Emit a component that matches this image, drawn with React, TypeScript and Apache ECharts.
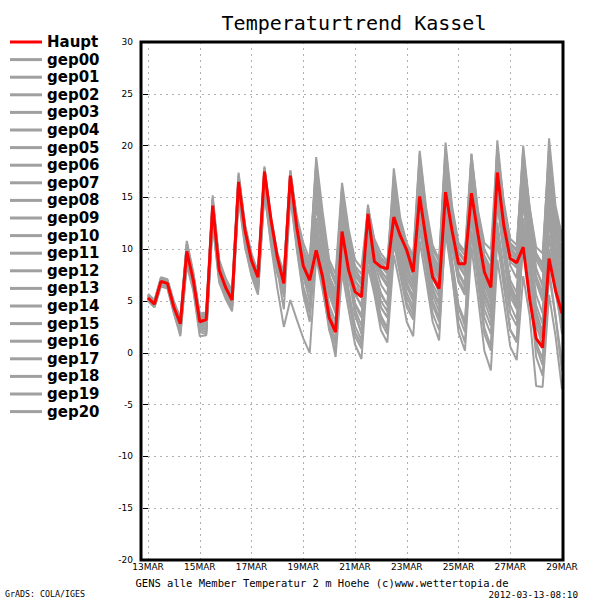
import React, { useEffect, useRef } from "react";
import * as echarts from "echarts";

// time step of the ensemble data (hours), first point at 13MAR 00
const STEP_HOURS = 6;
const xTickLabels = ["13MAR", "15MAR", "17MAR", "19MAR", "21MAR", "23MAR", "25MAR", "27MAR", "29MAR"];

const haupt = [5.3,4.7,6.9,6.7, 4.4,2.8,9.8,7.0, 3.0,3.2,14.2,8.0, 6.3,5.1,16.5,11.8, 8.9,7.3,17.5,12.9, 9.2,6.7,17.1,12.1, 8.4,7.0,9.9,7.3, 3.4,2.0,11.7,8.0, 5.9,5.4,13.4,8.8, 8.3,8.1,13.1,11.3, 9.9,7.8,15.1,10.9, 7.3,6.2,15.5,11.8, 8.6,8.6,15.4,11.5, 7.8,6.3,17.4,12.3, 9.1,8.7,10.2,5.2, 1.4,0.5,9.1,6.0, 3.8];

const gep00 = [5.4,4.8,7.0,6.8, 4.5,2.6,9.6,7.2, 3.2,3.0,14.0,8.2, 6.4,5.0,16.3,11.6, 8.7,7.0,17.2,12.6, 9.0,6.5,16.8,12.3, 8.6,7.2,10.4,7.6, 3.8,2.4,12.2,8.3, 6.2,5.8,13.0,9.2, 8.6,8.0,12.6,10.8, 9.5,7.4,14.6,10.5, 7.6,6.6,16.0,12.0, 8.9,8.2,14.8,11.0, 7.5,6.0,16.6,12.0, 8.8,8.2,11.0,6.0, 2.4,1.4,10.0,6.8, 4.4];
const gep01 = [5.1,4.5,6.6,6.4, 4.0,2.2,9.2,6.8, 2.8,2.6,13.6,7.8, 6.0,4.8,16.0,11.2, 8.4,6.8,16.8,12.0, 8.6,6.0,16.2,11.8, 9.0,8.0,17.5,12.4, 8.2,6.6,15.6,11.0, 8.0,6.8,13.2,10.2, 8.8,8.0,16.2,12.2, 9.6,8.4,18.0,13.0, 9.6,8.0,19.2,13.6, 9.8,9.0,18.4,13.2, 9.4,8.2,19.6,14.0, 10.2,9.4,18.6,13.0, 9.6,8.6,19.8,13.8, 10.8];
const gep02 = [5.6,5.0,7.2,7.0, 4.8,3.0,10.4,7.4, 3.4,3.6,14.8,8.6, 6.8,5.6,17.0,12.0, 9.2,7.6,17.8,12.2, 8.0,4.2,15.0,10.0, 5.6,3.0,10.8,6.4, 2.2,0.2,9.6,5.4, 2.0,0.8,10.0,6.2, 3.4,2.2,12.4,8.0, 4.8,3.6,14.0,8.6, 4.6,3.0,13.8,8.2, 3.6,2.0,11.6,6.8, 1.8,0.2,12.0,7.2, 2.2,1.0,11.2,6.0, 0.6,-1.2,8.0,3.6, -1.0];
const gep03 = [5.2,4.6,6.8,6.6, 4.2,2.4,9.4,6.6, 2.4,2.2,13.2,7.4, 5.8,4.6,15.6,11.0, 8.2,6.4,16.4,11.6, 8.4,7.0,16.6,12.6, 10.0,8.6,18.9,13.6, 9.0,7.6,16.4,12.0, 9.0,8.2,14.0,11.0, 9.6,8.8,17.0,12.6, 10.4,9.0,19.2,13.6, 10.0,8.8,20.3,14.2, 10.6,9.8,16.0,12.0, 9.0,7.6,18.6,13.2, 10.0,9.0,17.0,12.4, 9.0,7.8,18.0,12.8, 9.8];
const gep04 = [5.5,4.9,6.9,6.9, 4.6,2.9,10.0,7.3, 3.3,3.4,14.5,8.4, 6.6,5.4,16.7,11.4, 8.0,6.0,15.6,10.4, 6.2,2.5,5.1,3.2, 1.4,0.0,9.2,6.0, 2.6,0.8,8.6,5.2, 1.6,0.4,9.2,6.8, 4.4,3.4,11.0,8.6, 6.4,5.0,13.2,9.4, 6.0,4.6,15.0,10.2, 6.8,5.6,13.4,9.0, 5.0,3.2,14.4,9.6, 5.4,4.2,15.2,9.8, 4.0,2.0,12.8,7.8, 3.2];
const gep05 = [5.3,4.7,6.7,6.5, 4.3,2.5,9.9,7.1, 3.1,3.1,14.2,8.0, 6.2,5.2,16.4,11.8, 8.8,7.4,17.6,13.0, 9.6,7.4,17.6,12.8, 9.4,7.8,14.2,9.6, 5.6,3.8,13.6,9.4, 7.0,6.2,11.8,9.0, 7.4,6.4,14.8,10.6, 8.0,6.6,16.4,11.2, 7.4,5.8,17.0,11.6, 7.6,6.4,17.2,11.8, 7.2,5.2,15.8,10.6, 6.6,5.2,14.6,9.2, 4.6,2.8,16.2,10.4, 6.2];
const gep06 = [5.0,4.4,6.4,6.2, 3.8,1.8,8.6,6.2, 2.0,1.8,12.6,7.0, 5.4,4.2,15.2,10.4, 7.6,5.8,15.8,11.0, 7.8,5.8,15.6,11.2, 7.6,5.8,16.4,11.0, 6.8,5.0,14.2,9.4, 5.8,4.4,12.2,9.4, 7.8,7.2,15.6,11.8, 8.8,7.6,17.6,12.4, 8.6,7.2,18.4,12.8, 8.6,7.6,19.2,13.2, 8.6,7.0,20.5,14.4, 10.6,10.0,19.6,13.6, 9.4,8.2,20.7,14.2, 11.2];
const gep07 = [5.7,5.1,7.3,7.1, 5.0,3.4,10.8,7.8, 3.8,3.9,15.2,9.0, 7.2,6.0,17.4,12.4, 9.6,7.8,18.0,12.8, 8.8,6.2,16.0,10.6, 6.4,4.4,12.4,7.6, 3.2,1.2,10.6,6.2, 2.6,1.2,12.0,7.6, 5.0,4.0,14.0,9.4, 6.6,5.2,15.6,10.2, 6.2,4.8,16.4,10.8, 7.0,5.8,16.6,11.0, 6.0,4.2,17.0,11.2, 6.4,5.0,13.0,8.2, 3.2,1.6,14.6,9.0, 4.8];
const gep08 = [5.4,4.6,6.8,6.6, 4.1,2.1,9.0,6.4, 2.2,2.0,12.8,7.2, 5.6,4.4,15.4,10.8, 8.0,6.2,16.2,11.4, 8.2,6.6,17.2,13.2, 10.6,9.0,18.2,12.8, 8.4,6.6,15.0,10.4, 7.0,5.6,14.3,10.6, 8.4,7.6,17.8,13.0, 10.6,9.4,19.5,14.0, 10.4,9.0,19.8,13.8, 10.2,9.4,18.8,13.6, 10.0,8.8,19.0,13.4, 10.0,9.2,18.0,12.6, 8.2,6.4,17.4,12.0, 7.6];
const gep09 = [5.2,4.8,7.1,6.9, 4.7,3.2,10.6,7.6, 3.6,3.4,14.6,8.8, 7.0,5.8,17.2,12.2, 9.4,7.8,17.8,12.4, 8.4,5.4,15.4,10.2, 6.0,3.8,11.6,7.2, 2.6,-0.4,7.8,4.2, 0.8,-0.6,8.4,5.6, 2.2,1.0,9.4,6.4, 3.0,1.6,10.8,7.0, 3.0,1.2,12.4,7.6, 2.0,0.2,10.2,5.4, 0.2,-1.7,9.0,5.0, 0.6,-0.7,7.4,3.6, -3.2,-3.3,5.6,1.6, -3.5];
const gep10 = [5.3,4.6,6.9,6.7, 4.4,2.7,9.7,7.0, 2.9,2.8,13.8,8.0, 6.2,5.0,16.2,11.4, 8.4,6.6,16.8,12.0, 8.8,6.8,16.4,12.0, 8.8,7.4,15.6,10.8, 7.0,5.4,14.8,10.2, 7.4,6.6,12.6,9.6, 8.0,7.0,16.0,11.8, 9.0,7.8,17.2,12.0, 8.4,7.0,17.8,12.4, 8.8,8.0,17.8,12.6, 8.4,6.8,18.4,13.0, 9.2,8.4,16.4,11.4, 7.4,5.8,18.8,12.8, 9.0];
const gep11 = [5.6,4.9,7.0,6.8, 4.6,3.1,10.2,7.4, 3.5,3.6,14.9,8.4, 6.8,5.6,16.9,11.9, 9.0,7.2,17.4,12.6, 9.4,7.8,17.4,12.8, 9.8,8.4,18.2,12.4, 7.6,5.2,12.8,8.2, 4.2,2.6,9.4,6.2, 3.6,2.4,11.6,8.0, 5.4,4.0,13.2,8.6, 5.0,3.4,14.4,9.0, 4.6,3.0,13.2,8.0, 3.4,1.8,12.6,8.0, 3.8,2.6,10.6,6.2, 1.0,-0.6,11.4,6.6, 1.8];
const gep12 = [5.1,4.4,6.5,6.3, 3.9,1.6,8.4,6.0, 1.6,1.7,12.4,6.8, 5.2,4.0,14.8,10.2, 7.4,5.6,15.4,10.8, 7.6,6.0,15.8,11.4, 8.0,6.6,16.8,11.6, 7.4,6.0,15.8,11.2, 8.4,7.6,13.6,10.4, 9.2,8.6,16.6,12.4, 10.0,8.6,18.6,13.2, 9.4,8.4,19.2,13.6, 10.4,9.8,19.2,13.8, 10.6,10.0,19.8,14.6, 11.0,10.4,19.2,14.0, 10.2,9.6,19.4,13.6, 11.4];
const gep13 = [5.5,4.9,7.1,6.9, 4.4,2.9,10.1,7.2, 3.4,3.2,14.4,8.2, 6.4,5.2,16.6,11.8, 8.8,7.0,17.4,12.4, 8.6,6.4,16.6,11.6, 8.0,6.2,12.0,8.2, 4.6,3.0,11.2,7.2, 4.6,3.4,10.6,7.8, 5.8,4.6,12.8,9.0, 6.8,5.4,14.8,9.6, 6.6,5.4,15.8,10.4, 7.0,6.0,15.2,10.2, 6.6,4.8,16.2,10.8, 7.0,5.8,16.0,10.2, 5.6,3.8,15.6,10.0, 5.6];
const gep14 = [5.3,4.8,6.8,6.5, 4.3,2.4,9.5,6.9, 2.7,2.6,13.4,7.6, 6.0,4.9,15.8,11.2, 8.4,6.8,17.0,12.2, 8.8,6.6,17.0,12.2, 8.6,6.8,17.8,12.6, 8.6,7.0,16.0,11.6, 8.2,7.0,13.8,10.6, 9.0,8.4,15.2,11.0, 8.6,6.8,16.6,11.4, 8.0,6.4,17.6,12.2, 8.4,7.4,16.8,11.8, 7.6,6.2,17.8,12.4, 8.4,7.2,17.4,11.8, 6.8,5.0,13.6,8.6, 4.2];
const gep15 = [5.4,4.7,6.9,6.7, 4.5,2.8,9.8,7.1, 3.0,3.0,14.1,8.1, 6.3,5.1,16.4,11.6, 8.6,7.2,17.2,12.8, 9.2,7.2,17.4,12.6, 8.8,7.0,13.0,8.6, 4.2,2.2,12.6,8.4, 5.6,4.6,12.4,8.8, 6.6,5.6,14.4,10.4, 7.6,6.2,15.8,11.0, 7.8,6.2,17.2,11.8, 7.8,6.6,16.2,11.2, 7.0,5.6,17.6,11.6, 6.2,4.4,12.4,7.8, 2.8,0.6,9.8,5.8, 2.4];
const gep16 = [5.2,4.6,6.6,6.4, 4.1,2.0,8.9,6.5, 2.4,2.3,13.0,7.3, 5.7,4.5,15.4,10.8, 8.1,6.3,16.2,11.4, 8.0,5.6,15.8,11.0, 7.4,5.0,14.8,10.0, 6.0,4.0,14.2,9.6, 6.4,5.6,13.2,9.8, 7.6,6.6,15.8,11.2, 8.2,6.8,17.8,12.2, 8.8,7.6,18.2,12.8, 9.6,8.8,18.0,12.6, 8.8,7.4,19.4,13.6, 10.4,9.8,20.0,14.0, 9.6,8.4,18.6,13.2, 10.0];
const gep17 = [5.6,5.0,7.2,7.0, 4.7,3.1,10.4,7.6, 3.6,3.7,14.7,8.7, 6.9,5.7,17.0,12.2, 9.2,7.6,17.8,13.2, 9.6,7.8,17.6,13.0, 9.6,8.0,17.0,11.8, 7.4,5.8,13.8,8.8, 3.8,1.8,10.8,7.0, 4.4,3.4,12.6,8.6, 5.8,4.4,14.4,9.4, 5.6,4.0,13.6,8.6, 4.4,2.6,14.0,8.8, 4.2,2.6,15.2,9.6, 4.6,3.2,14.8,9.0, 3.6,1.4,13.0,7.4, 2.6];
const gep18 = [5.0,4.5,6.6,6.4, 4.0,2.3,9.1,6.6, 2.6,2.4,13.2,7.6, 5.9,4.7,15.8,11.0, 8.2,6.6,16.4,11.8, 8.4,6.2,16.0,11.4, 7.8,5.8,15.0,10.4, 6.4,4.6,13.6,8.8, 4.8,3.6,11.4,8.2, 5.6,4.6,13.8,9.8, 7.2,6.0,16.2,11.4, 7.4,6.0,16.8,11.6, 7.0,5.6,15.6,10.4, 5.6,3.8,14.8,9.8, 5.8,4.6,17.8,12.2, 8.0,6.6,16.8,11.6, 7.0];
const gep19 = [5.5,4.8,7.0,6.8, 4.5,2.7,9.8,7.2, 3.1,3.2,14.3,8.2, 6.5,5.3,16.6,11.8, 8.8,7.4,17.4,12.6, 9.0,7.2,17.0,12.4, 9.2,7.6,16.2,11.0, 6.8,4.8,12.0,7.8, 3.6,2.0,10.2,6.6, 3.0,1.8,10.6,7.4, 4.4,3.2,12.0,8.0, 3.8,2.2,11.6,7.4, 2.8,1.0,11.8,7.2, 2.4,0.6,10.8,6.4, 2.2,1.2,11.4,6.4, -0.4,-2.2,7.6,3.4, -1.8];
const gep20 = [5.3,4.7,6.8,6.6, 4.3,2.5,9.6,7.0, 2.9,2.9,13.9,7.9, 6.1,5.0,16.1,11.4, 8.5,6.9,17.0,12.4, 9.0,7.0,16.8,12.2, 9.4,8.2,17.2,12.2, 8.2,6.8,15.2,10.6, 7.6,6.6,12.8,9.8, 8.4,7.8,16.4,12.0, 9.4,8.2,18.4,13.0, 9.2,7.8,18.8,13.0, 9.2,8.4,18.2,12.8, 9.2,8.0,18.0,12.8, 9.6,8.8,15.6,10.8, 7.0,5.4,17.0,11.8, 8.2];

const members = [gep00, gep01, gep02, gep03, gep04, gep05, gep06, gep07, gep08, gep09, gep10, gep11, gep12, gep13, gep14, gep15, gep16, gep17, gep18, gep19, gep20];
const memberNames = ["gep00", "gep01", "gep02", "gep03", "gep04", "gep05", "gep06", "gep07", "gep08", "gep09", "gep10", "gep11", "gep12", "gep13", "gep14", "gep15", "gep16", "gep17", "gep18", "gep19", "gep20"];

const GRAY = "#a0a0a0";
const RED = "#ff0000";
const FONT = '"DejaVu Sans", sans-serif';
const MONO = '"DejaVu Sans Mono", monospace';

export default function App() {
  const ref = useRef<HTMLDivElement | null>(null);

  useEffect(() => {
    if (!ref.current) return;
    const chart = echarts.init(ref.current, null, { renderer: "svg" });
    const toPoints = (arr: number[]) => arr.map((v, i) => [i * STEP_HOURS, v]);

    const series: any[] = members.map((arr, k) => ({
      name: memberNames[k],
      type: "line",
      data: toPoints(arr),
      symbol: "none",
      silent: true,
      z: 2,
      lineStyle: { color: GRAY, width: 2 },
      itemStyle: { color: GRAY },
    }));
    series.push({
      name: "Haupt",
      type: "line",
      data: toPoints(haupt),
      symbol: "none",
      silent: true,
      z: 3,
      lineStyle: { color: RED, width: 3 },
      itemStyle: { color: RED },
    });

    chart.setOption({
      animation: false,
      backgroundColor: "#ffffff",
      grid: { left: 148, right: 38, top: 42, bottom: 40 },
      legend: {
        data: ["Haupt", ...memberNames].map((n) => ({ name: n, icon: "rect" })),
        orient: "vertical",
        left: 10,
        top: 33.2,
        padding: 0,
        itemWidth: 32,
        itemHeight: 3,
        itemGap: 0,
        selectedMode: false,
        textStyle: { fontFamily: FONT, fontWeight: "bold", fontSize: 15, color: "#000", lineHeight: 17.6 },
      },
      xAxis: {
        type: "value",
        min: 0,
        max: 384,
        interval: 48,
        axisLine: { show: false },
        axisTick: { show: false },
        axisLabel: {
          margin: 2,
          fontFamily: FONT,
          fontSize: 9,
          color: "#000",
          formatter: (v: number) => xTickLabels[Math.round(v / 48)] ?? "",
        },
        splitLine: { show: true, lineStyle: { color: "#b0b0b0", width: 1, type: [2, 4] } },
      },
      yAxis: {
        type: "value",
        min: -20,
        max: 30,
        interval: 5,
        offset: 7,
        axisLine: { show: false },
        axisTick: { show: true, length: 5, lineStyle: { color: "#000", width: 1 } },
        axisLabel: { margin: 8, fontFamily: FONT, fontSize: 9, color: "#000" },
        splitLine: { show: true, lineStyle: { color: "#b0b0b0", width: 1, type: [2, 4] } },
      },
      series,
      graphic: [
        {
          type: "rect",
          z: 100,
          silent: true,
          shape: { x: 141, y: 42, width: 422, height: 518 },
          style: { fill: "none", stroke: "#000", lineWidth: 3 },
        },
        {
          type: "text",
          x: 354,
          y: 23,
          style: { text: "Temperaturtrend Kassel", font: `20px ${MONO}`, fill: "#000", textAlign: "center", textVerticalAlign: "middle" },
        },
        {
          type: "text",
          x: 322,
          y: 583,
          style: { text: "GENS alle Member Temperatur 2 m Hoehe (c)www.wettertopia.de", font: `10.5px ${MONO}`, fill: "#000", textAlign: "center", textVerticalAlign: "middle" },
        },
        {
          type: "text",
          x: 578,
          y: 594,
          style: { text: "2012-03-13-08:10", font: `9.3px ${MONO}`, fill: "#000", textAlign: "right", textVerticalAlign: "middle" },
        },
        {
          type: "text",
          x: 5,
          y: 594,
          style: { text: "GrADS: COLA/IGES", font: `8.3px ${MONO}`, fill: "#000", textAlign: "left", textVerticalAlign: "middle" },
        },
      ],
    });
    return () => chart.dispose();
  }, []);

  return (
    <div
      ref={ref}
      style={{ position: "fixed", left: 0, top: 0, width: 600, height: 600, background: "#fff" }}
    />
  );
}
